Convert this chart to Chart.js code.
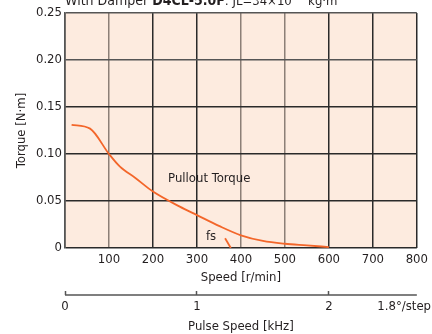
<!DOCTYPE html>
<html lang="en">
<head>
    <meta charset="UTF-8">
    <title>Pullout Torque</title>
    <script src="https://cdn.jsdelivr.net/npm/chart.js@4.4.0/dist/chart.umd.min.js"></script>
    <style>
        html, body { margin: 0; padding: 0; background: #fff; }
        #wrap { width: 432px; height: 334px; }
    </style>
</head>
<body>
    <div id="wrap"><canvas id="chart" width="432" height="334"></canvas></div>

    <script>
        // values
        const pulloutSpeed  = [15, 57, 100, 125, 160, 200, 261, 300, 350, 400, 450, 500, 550, 600];
        const pulloutTorque = [0.131, 0.127, 0.100, 0.0865, 0.0745, 0.060, 0.044, 0.035, 0.0235, 0.0135, 0.0075, 0.0045, 0.0028, 0.001];
        const fsSpeed  = [364, 377];
        const fsTorque = [0.0103, 0];
        const yTicks = [0, 0.05, 0.10, 0.15, 0.20, 0.25];
        const pulseTicks = [0, 1, 2];
        const rpmPerKHz = 300; // 1.8°/step

        const FONT = "'DejaVu Sans Condensed', 'Liberation Sans', Arial, sans-serif";
        const FS = 13;
        const ORANGE = '#f3662a';
        const TEXT = '#231f20';

        const toXY = (xs, ys) => xs.map((x, i) => ({ x: x, y: ys[i] }));

        // peach plot background + top heading + annotations
        const decor = {
            id: 'decor',
            beforeDraw(chart) {
                const { ctx, chartArea: a } = chart;
                ctx.save();
                ctx.fillStyle = '#fdebdf';
                ctx.fillRect(a.left, a.top, a.right - a.left, a.bottom - a.top);
                ctx.restore();
            },
            afterDraw(chart) {
                const { ctx, scales } = chart;
                ctx.save();
                ctx.fillStyle = TEXT;
                ctx.textBaseline = 'alphabetic';
                // heading (clipped at the top like the reference)
                let x = 65, y = 5;
                const part = (t, f) => { ctx.font = f; ctx.fillText(t, x, y); x += ctx.measureText(t).width; };
                part('With Damper ', (FS + 1) + 'px ' + FONT);
                part('D4CL-5.0F', 'bold ' + (FS + 1) + 'px ' + FONT);
                part(': JL=34×10', FS + 'px ' + FONT);
                ctx.font = '8px ' + FONT; ctx.fillText('−7', x + 1, y - 6); x += ctx.measureText('−7').width + 2;
                part(' kg·m', FS + 'px ' + FONT);
                ctx.font = '8px ' + FONT; ctx.fillText('2', x + 1, y - 6);

                // curve labels
                ctx.font = FS + 'px ' + FONT;
                ctx.textAlign = 'center';
                ctx.textBaseline = 'middle';
                ctx.fillText('Pullout Torque', scales.x.getPixelForValue(328), scales.y.getPixelForValue(0.0741));
                ctx.fillText('fs', scales.x.getPixelForValue(332), scales.y.getPixelForValue(0.012));

                // pulse speed axis line under its tick marks
                const p = scales.x2;
                ctx.strokeStyle = '#555';
                ctx.lineWidth = 1.5;
                ctx.beginPath();
                ctx.moveTo(p.left, p.top + 4);
                ctx.lineTo(p.right, p.top + 4);
                ctx.stroke();
                ctx.textAlign = 'right';
                ctx.textBaseline = 'middle';
                ctx.fillText('1.8°/step', 431, p.top + 16);
                ctx.restore();
            }
        };

        const darkLines = [0, 200, 300, 600, 700, 800];

        new Chart(document.getElementById('chart'), {
            type: 'line',
            data: {
                datasets: [
                    {
                        label: 'Pullout Torque',
                        data: toXY(pulloutSpeed, pulloutTorque),
                        borderColor: ORANGE,
                        borderWidth: 1.8,
                        pointRadius: 0,
                        cubicInterpolationMode: 'monotone',
                        fill: false
                    },
                    {
                        label: 'fs',
                        data: toXY(fsSpeed, fsTorque),
                        borderColor: ORANGE,
                        borderWidth: 1.8,
                        pointRadius: 0,
                        fill: false
                    }
                ]
            },
            options: {
                responsive: false,
                animation: false,
                layout: { padding: { left: 0, right: 14, top: 13, bottom: 0 } },
                plugins: { legend: { display: false }, tooltip: { enabled: false } },
                scales: {
                    x: {
                        type: 'linear',
                        position: 'bottom',
                        min: 0,
                        max: 800,
                        afterFit: (s) => { s.height = 43; },
                        grid: {
                            drawTicks: false,
                            lineWidth: 1.5,
                            color: (c) => darkLines.includes(c.tick && c.tick.value) ? '#2a2a2a' : '#8c7f77'
                        },
                        border: { display: false },
                        ticks: {
                            stepSize: 100,
                            padding: 4,
                            color: TEXT,
                            font: { family: FONT, size: FS },
                            callback: (v) => v === 0 ? '' : v
                        },
                        title: {
                            display: true,
                            text: 'Speed [r/min]',
                            color: TEXT,
                            font: { family: FONT, size: FS },
                            padding: { top: 0, bottom: 6 }
                        }
                    },
                    x2: {
                        type: 'linear',
                        position: 'bottom',
                        min: 0,
                        max: 800 / rpmPerKHz,
                        afterFit: (s) => { s.height = 43; },
                        afterBuildTicks: (s) => { s.ticks = pulseTicks.map(v => ({ value: v })); },
                        grid: {
                            drawOnChartArea: false,
                            drawTicks: true,
                            tickLength: 4,
                            tickWidth: 1.5,
                            tickColor: '#555'
                        },
                        border: { display: false },
                        ticks: {
                            padding: 4,
                            color: TEXT,
                            font: { family: FONT, size: FS },
                            callback: (v) => v
                        },
                        title: {
                            display: true,
                            text: 'Pulse Speed [kHz]',
                            color: TEXT,
                            font: { family: FONT, size: FS },
                            padding: { top: 4, bottom: 0 }
                        }
                    },
                    y: {
                        min: 0,
                        max: 0.25,
                        afterFit: (s) => { s.width = 65; },
                        afterBuildTicks: (s) => { s.ticks = yTicks.map(v => ({ value: v })); },
                        grid: {
                            drawTicks: false,
                            lineWidth: 1.5,
                            color: (c) => (c.tick && (c.tick.value === 0.2 || c.tick.value === 0.25)) ? '#555' : '#2a2a2a'
                        },
                        border: { display: true, color: '#555', width: 1.5 },
                        ticks: {
                            padding: 3,
                            color: TEXT,
                            font: { family: FONT, size: FS },
                            callback: (v) => v === 0 ? '0' : v.toFixed(2)
                        },
                        title: {
                            display: true,
                            text: 'Torque [N·m]',
                            color: TEXT,
                            font: { family: FONT, size: FS },
                            padding: { top: 14, bottom: 0 }
                        }
                    }
                }
            },
            plugins: [decor]
        });
    </script>
</body>
</html>
